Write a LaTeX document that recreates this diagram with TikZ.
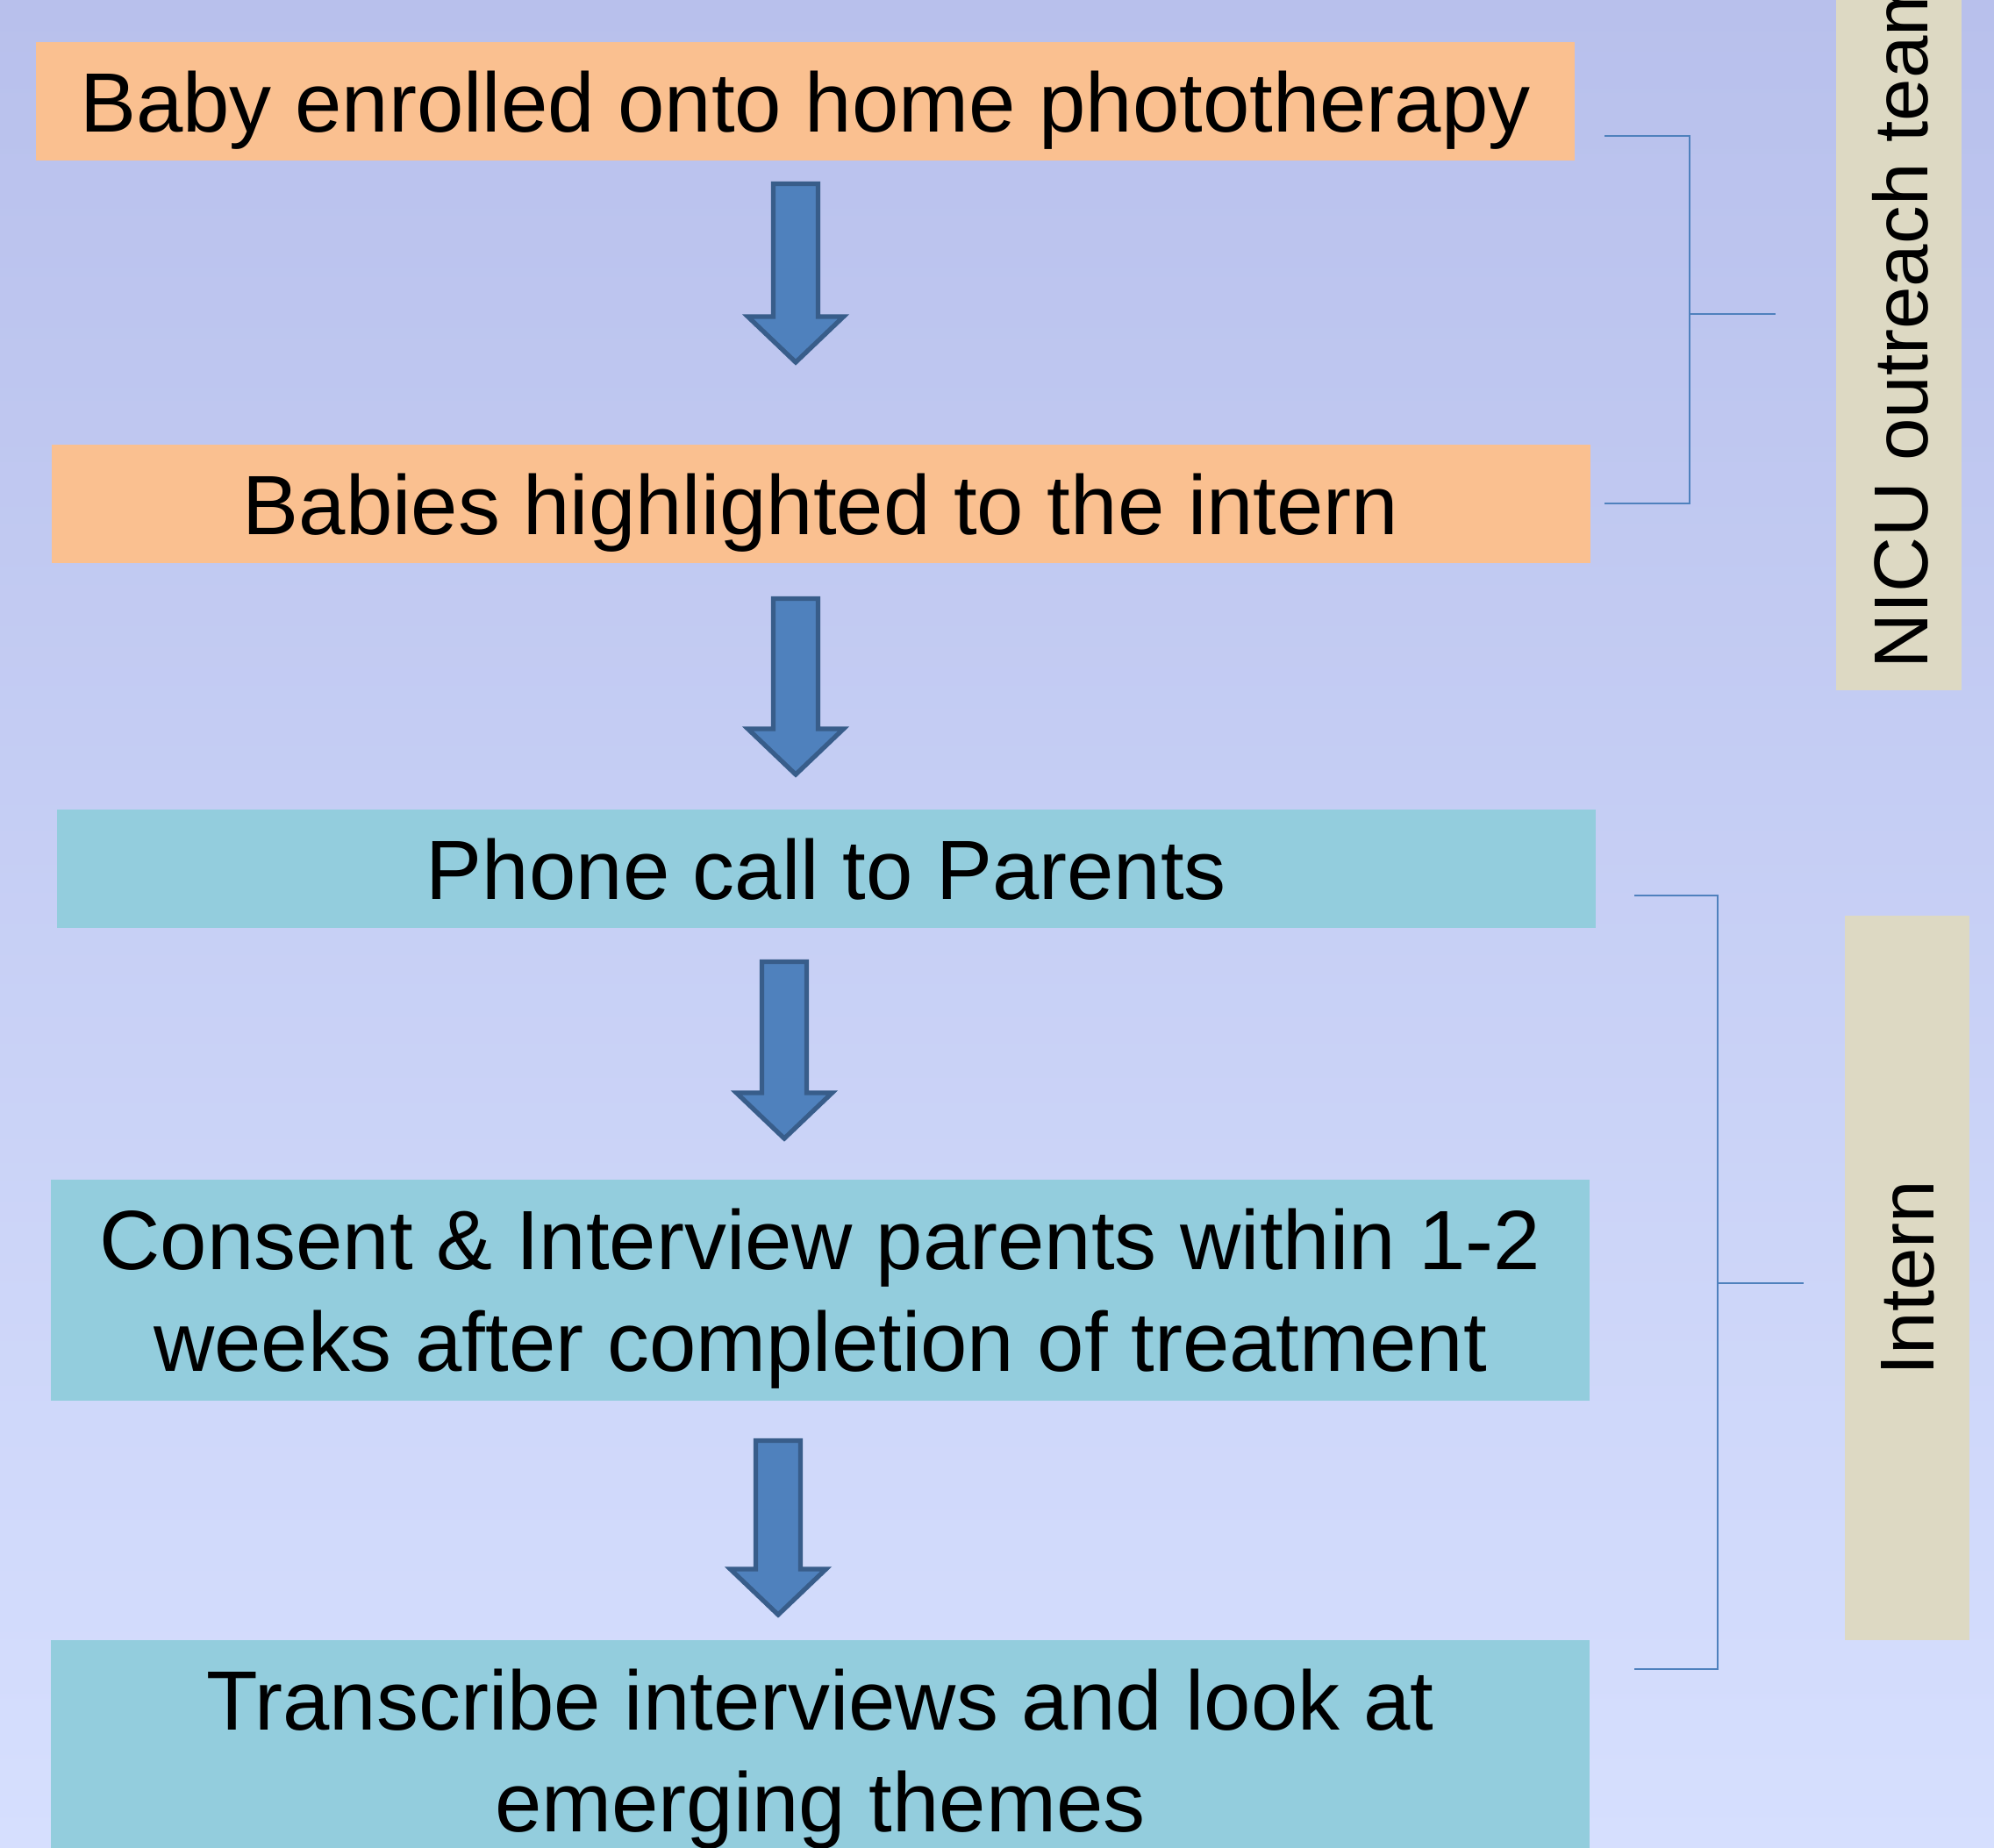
\documentclass[tikz,border=0pt]{standalone}
\usepackage{fontspec}
\setmainfont{Liberation Sans}
\usetikzlibrary{calc}
\definecolor{bgtop}{RGB}{184,192,236}
\definecolor{bgbottom}{RGB}{214,223,254}
\definecolor{orangefill}{HTML}{FAC090}
\definecolor{tealfill}{HTML}{93CDDD}
\definecolor{rolefill}{HTML}{DDD9C3}
\definecolor{arrowfill}{HTML}{4F81BD}
\definecolor{arrowline}{HTML}{385D8A}
\tikzset{
  box/.style={minimum width=17.54cm, minimum height=1.35cm, inner sep=0pt,
    align=center, text depth=0pt, font=\fontsize{27.3}{33}\selectfont},
  orangebox/.style={box, fill=orangefill},
  tealbox/.style={box, fill=tealfill},
  rolebox/.style={fill=rolefill, inner sep=0pt},
  rolelabel/.style={rotate=90, inner sep=0pt, font=\fontsize{24.8}{30}\selectfont},
  bracket/.style={draw=arrowfill, line width=0.7pt},
  fatarrow/.style={draw=arrowline, fill=arrowfill, line width=1.5pt, line join=miter},
}
\newcommand{\blockarrow}[2]{%
  \draw[fatarrow] let \p1=(#1), \p2=(#2) in
    (\x1-0.255cm,\y1) -- (\x1+0.255cm,\y1) -- (\x1+0.255cm,\y2+0.52cm)
    -- (\x1+0.545cm,\y2+0.52cm) -- (\x1,\y2) -- (\x1-0.545cm,\y2+0.52cm)
    -- (\x1-0.255cm,\y2+0.52cm) -- cycle;}
\begin{document}
\begin{tikzpicture}
  \useasboundingbox (0,0) rectangle (22.73,-21.06);
  \shade[top color=bgtop, bottom color=bgbottom] (0,0) rectangle (22.73,-21.06);

  \node[orangebox] (enrol) at (9.18,-1.155) {Baby enrolled onto home phototherapy};
  \node[orangebox] (flag) at (9.355,-5.745) {Babies highlighted to the intern};
  \node[tealbox] (call) at (9.42,-9.905) {Phone call to Parents};
  \node[tealbox, minimum height=2.52cm] (consent) at (9.35,-14.71)
    {Consent \& Interview parents within 1-2\\weeks after completion of treatment};
  \node[tealbox, minimum height=2.52cm] (themes) at (9.35,-19.96)
    {Transcribe interviews and look at\\emerging themes};

  \coordinate (a1s) at (9.07,-2.095);
  \coordinate (a1e) at (9.07,-4.13);
  \coordinate (a2s) at (9.07,-6.825);
  \coordinate (a2e) at (9.07,-8.83);
  \coordinate (a3s) at (8.94,-10.965);
  \coordinate (a3e) at (8.94,-12.98);
  \coordinate (a4s) at (8.87,-16.425);
  \coordinate (a4e) at (8.87,-18.41);
  \blockarrow{a1s}{a1e}
  \blockarrow{a2s}{a2e}
  \blockarrow{a3s}{a3e}
  \blockarrow{a4s}{a4e}

  \node[rolebox, minimum width=1.43cm, minimum height=7.87cm] (nicubox) at (21.645,-3.935) {};
  \node[rolelabel, anchor=west] (nicu) at (21.66,-7.635) {NICU outreach team};
  \node[rolebox, minimum width=1.42cm, minimum height=8.26cm] (internbox) at (21.74,-14.57) {};
  \node[rolelabel] (intern) at (21.75,-14.57) {Intern};

  \coordinate (b1a) at (18.29,-1.55);
  \coordinate (b1b) at (19.26,-1.55);
  \coordinate (b1c) at (19.26,-5.74);
  \coordinate (b1d) at (18.29,-5.74);
  \coordinate (b1m) at (19.26,-3.58);
  \coordinate (b1e) at (20.24,-3.58);
  \draw[bracket] (b1a) -- (b1b) -- (b1c) -- (b1d);
  \draw[bracket] (b1m) -- (b1e);

  \coordinate (b2a) at (18.63,-10.21);
  \coordinate (b2b) at (19.58,-10.21);
  \coordinate (b2c) at (19.58,-19.03);
  \coordinate (b2d) at (18.63,-19.03);
  \coordinate (b2m) at (19.58,-14.63);
  \coordinate (b2e) at (20.56,-14.63);
  \draw[bracket] (b2a) -- (b2b) -- (b2c) -- (b2d);
  \draw[bracket] (b2m) -- (b2e);
\end{tikzpicture}
\end{document}
